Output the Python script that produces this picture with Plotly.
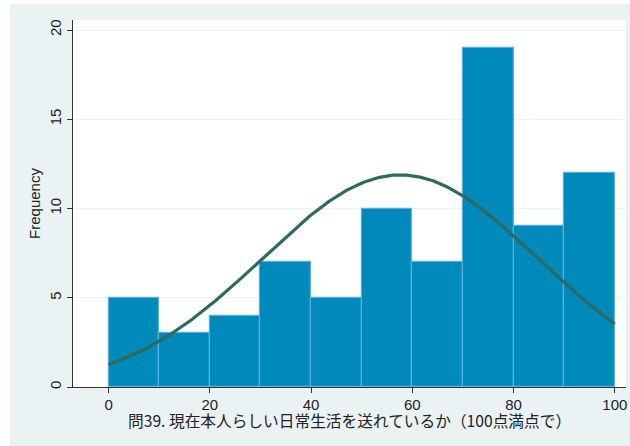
import numpy as np
import plotly.graph_objects as go

# Histogram data (bins of width 10 from 0 to 100)
bin_starts = [0, 10, 20, 30, 40, 50, 60, 70, 80, 90]
frequencies = [5, 3, 4, 7, 5, 10, 7, 19, 9, 12]
bin_width = 10

# Normal curve parameters (fitted to the sample)
curve_mean = 57.6
curve_sd = 27.2
curve_min = 0
curve_max = 100

x_ticks = [0, 20, 40, 60, 80, 100]
y_ticks = [0, 5, 10, 15, 20]
x_title = "問39. 現在本人らしい日常生活を送れているか（100点満点で）"
y_title = "Frequency"

n_obs = sum(frequencies)
centers = [b + bin_width / 2 for b in bin_starts]
xs = np.linspace(curve_min, curve_max, 300)
ys = n_obs * bin_width / (curve_sd * np.sqrt(2 * np.pi)) * np.exp(-0.5 * ((xs - curve_mean) / curve_sd) ** 2)

fig = go.Figure()
fig.add_trace(go.Bar(
    x=centers, y=frequencies, width=bin_width,
    marker=dict(color="#0089bb", line=dict(color="#5cb0de", width=1.2)),
    hoverinfo="x+y", showlegend=False,
))
fig.add_trace(go.Scatter(
    x=xs, y=ys, mode="lines",
    line=dict(color="#2f6a5e", width=3.2),
    showlegend=False, hoverinfo="skip",
))

latin = "Liberation Sans"
tick_font = dict(family=latin, size=15, color="#222222")

fig.update_layout(
    width=630, height=446,
    margin=dict(l=73, r=4, t=20, b=59, autoexpand=False),
    paper_bgcolor="white",
    plot_bgcolor="white",
    bargap=0,
    xaxis=dict(
        range=[-7.03, 102.2], tickvals=x_ticks, ticks="outside", ticklen=5,
        tickcolor="#333333", showline=True, linecolor="#333333", linewidth=1,
        showgrid=False, zeroline=False, tickfont=tick_font, ticklabelstandoff=-1,
    ),
    yaxis=dict(
        range=[0, 20.56], tickvals=y_ticks, ticks="outside", ticklen=5,
        tickcolor="#333333", showline=True, linecolor="#333333", linewidth=1,
        showgrid=True, gridcolor="#eaf2f3", gridwidth=1, zeroline=False,
        tickangle=-90, tickfont=tick_font,
        title=dict(text=y_title, font=dict(family=latin, size=15, color="#222222"), standoff=2),
    ),
    annotations=[dict(
        text=x_title, xref="paper", yref="paper", x=0.5, y=(387 - 420) / 367,
        xanchor="center", yanchor="middle", showarrow=False,
        font=dict(family="Noto Sans CJK JP", size=15.7, color="#222222"),
    )],
)

# Graph region background (light blue-grey frame around the white plot region)
fig.add_shape(type="rect", xref="paper", yref="paper",
              x0=(10 - 73) / 553, x1=(630 - 73) / 553,
              y0=(387 - 446) / 367, y1=(387 - 4) / 367,
              fillcolor="#eaf2f3", line=dict(width=0), layer="below")
fig.add_shape(type="rect", xref="paper", yref="paper",
              x0=0, x1=1, y0=0, y1=1,
              fillcolor="white", line=dict(width=0), layer="below")

fig.write_html("out.html", config={"displayModeBar": False},
               post_script="document.body.style.margin='0';")
